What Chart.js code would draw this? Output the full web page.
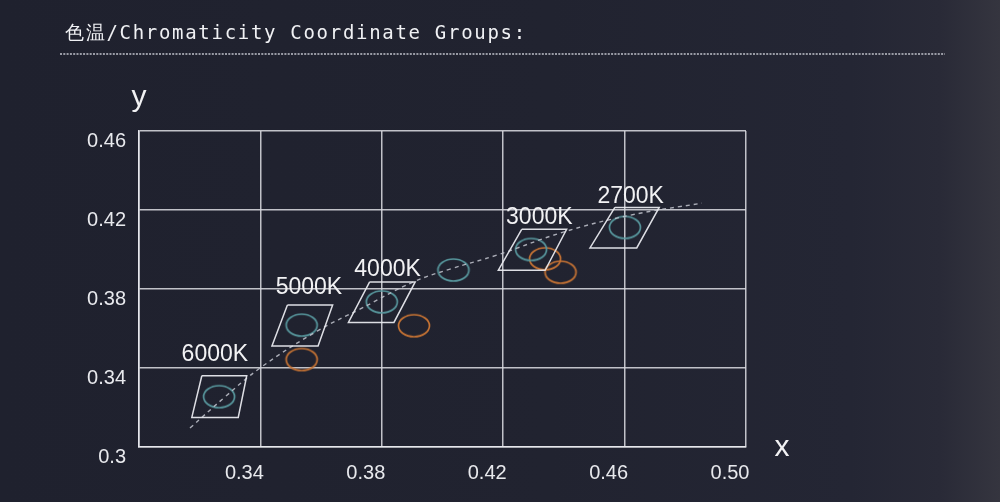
<!DOCTYPE html>
<html><head><meta charset="utf-8">
<script src="https://cdn.jsdelivr.net/npm/chart.js@4/dist/chart.umd.min.js"></script>
<style>
html,body{margin:0;padding:0;}
body{width:1000px;height:502px;overflow:hidden;background:linear-gradient(90deg,#1f212e 0%,#212330 55%,#242634 85%,#292a37 94%,#35353f 100%);}
#wrap{position:relative;width:1000px;height:502px;}
</style></head><body><div id="wrap"><canvas id="c" width="1000" height="502"></canvas></div>
<script>
// ---- data ----
const titleText = '色温/Chromaticity Coordinate Groups:';
const xTickLabels = ['', '0.34', '0.38', '0.42', '0.46', '0.50'];
const yTickLabels = ['0.3', '0.34', '0.38', '0.42', '0.46'];
const cctNames  = ['6000K', '5000K', '4000K', '3000K', '2700K'];
const cctLabelX = [0.3250, 0.3560, 0.3819, 0.4319, 0.4620];
const cctLabelY = [0.3466, 0.3805, 0.3899, 0.4160, 0.4267];

const quad6000X = [0.3207, 0.3355, 0.3327, 0.3174, 0.3207];
const quad6000Y = [0.3361, 0.3361, 0.3150, 0.3150, 0.3361];
const quad5000X = [0.3489, 0.3638, 0.3590, 0.3438, 0.3489];
const quad5000Y = [0.3719, 0.3719, 0.3511, 0.3511, 0.3719];
const quad4000X = [0.3760, 0.3910, 0.3840, 0.3690, 0.3760];
const quad4000Y = [0.3836, 0.3836, 0.3631, 0.3631, 0.3836];
const quad3000X = [0.4261, 0.4409, 0.4338, 0.4184, 0.4261];
const quad3000Y = [0.4102, 0.4102, 0.3895, 0.3895, 0.4102];
const quad2700X = [0.4568, 0.4714, 0.4640, 0.4486, 0.4568];
const quad2700Y = [0.4213, 0.4213, 0.4008, 0.4008, 0.4213];

const tealX = [0.3264, 0.3536, 0.3800, 0.4036, 0.4292, 0.4601];
const tealY = [0.3255, 0.3617, 0.3735, 0.3896, 0.4000, 0.4112];
const orangeX = [0.3536, 0.3906, 0.4338, 0.4389];
const orangeY = [0.3443, 0.3614, 0.3953, 0.3885];

const locusX = [0.3168, 0.3283, 0.3399, 0.3587, 0.3728, 0.3903, 0.4025, 0.4180, 0.4398, 0.4619, 0.4855];
const locusY = [0.3096, 0.3253, 0.3400, 0.3587, 0.3698, 0.3835, 0.3901, 0.3972, 0.4088, 0.4174, 0.4235];

// ---- helpers ----
const pts = (xs, ys) => xs.map((x, i) => ({x: x, y: ys[i]}));
function ellipseImg(color) {
  const c = document.createElement('canvas');
  c.width = 36; c.height = 26;
  const g = c.getContext('2d');
  g.strokeStyle = color; g.lineWidth = 1.7;
  g.beginPath(); g.ellipse(18, 13, 15.5, 11, 0, 0, Math.PI * 2); g.stroke();
  return c;
}
const TEAL = 'rgb(88,152,158)';
const ORANGE = 'rgb(200,116,52)';
const LINE = 'rgba(232,233,238,0.95)';
const GRID = 'rgba(215,216,222,0.88)';

const quadDs = (xs, ys) => ({
  data: pts(xs, ys), showLine: true, borderColor: LINE, borderWidth: 1.5,
  pointRadius: 0, tension: 0, fill: false
});

const decor = {
  id: 'decor',
  afterDraw(chart) {
    const ctx = chart.ctx;
    const xs = chart.scales.x, ys = chart.scales.y;
    ctx.save();
    // title
    ctx.fillStyle = '#f0f1f4';
    ctx.font = '19px "DejaVu Sans Mono", monospace';
    try { ctx.letterSpacing = '1.7px'; } catch (e) {}
    ctx.textAlign = 'left'; ctx.textBaseline = 'alphabetic';
    ctx.fillText(titleText, 65, 39);
    try { ctx.letterSpacing = '0px'; } catch (e) {}
    // dotted rule
    ctx.strokeStyle = 'rgba(160,162,172,0.95)';
    ctx.lineWidth = 1.8;
    ctx.setLineDash([2, 1.3]);
    ctx.beginPath(); ctx.moveTo(60, 54); ctx.lineTo(945, 54); ctx.stroke();
    ctx.setLineDash([]);
    // axis letters
    ctx.fillStyle = '#f2f2f4';
    ctx.font = '30px "Liberation Sans", Arial, sans-serif';
    ctx.textAlign = 'center';
    ctx.fillText('y', 139, 106);
    ctx.fillText('x', 782, 456);
    // CCT labels
    ctx.font = '23px "Liberation Sans", Arial, sans-serif';
    ctx.textBaseline = 'middle';
    ctx.fillStyle = '#f2f2f4';
    cctNames.forEach((n, i) => {
      ctx.fillText(n, xs.getPixelForValue(cctLabelX[i]), ys.getPixelForValue(cctLabelY[i]));
    });
    ctx.restore();
  }
};

new Chart(document.getElementById('c'), {
  type: 'scatter',
  data: {
    datasets: [
      quadDs(quad6000X, quad6000Y),
      quadDs(quad5000X, quad5000Y),
      quadDs(quad4000X, quad4000Y),
      quadDs(quad3000X, quad3000Y),
      quadDs(quad2700X, quad2700Y),
      { data: pts(locusX, locusY), showLine: true, borderColor: 'rgba(195,197,207,0.85)', borderWidth: 1.4,
        borderDash: [4, 4], pointRadius: 0, tension: 0.4, fill: false },
      { data: pts(tealX, tealY), pointStyle: ellipseImg(TEAL), pointRadius: 12, showLine: false },
      { data: pts(orangeX, orangeY), pointStyle: ellipseImg(ORANGE), pointRadius: 12, showLine: false }
    ]
  },
  options: {
    responsive: false,
    animation: false,
    events: [],
    layout: { padding: { top: 131, right: 254, left: 0, bottom: 0 } },
    plugins: { legend: { display: false }, tooltip: { enabled: false } },
    scales: {
      x: {
        type: 'linear', min: 0.30, max: 0.50,
        afterFit: s => { s.height = 55; },
        grid: { color: GRID, lineWidth: 1.5, drawTicks: false },
        border: { color: LINE, width: 1.6 },
        ticks: {
          stepSize: 0.04, autoSkip: false, maxRotation: 0,
          callback: (v, i) => xTickLabels[i] ?? '',
          labelOffset: -16, padding: 14,
          color: '#e8e9ed', font: { family: '"Liberation Sans", Arial, sans-serif', size: 20 }
        }
      },
      y: {
        type: 'linear', min: 0.30, max: 0.46,
        afterFit: s => { s.width = 139; },
        grid: { color: GRID, lineWidth: 1.5, drawTicks: false },
        border: { color: LINE, width: 1.6 },
        ticks: {
          stepSize: 0.04, autoSkip: false,
          callback: (v, i) => yTickLabels[i] ?? '',
          labelOffset: 10, padding: 13,
          color: '#e8e9ed', font: { family: '"Liberation Sans", Arial, sans-serif', size: 20 }
        }
      }
    }
  },
  plugins: [decor]
});
</script>
</body></html>
